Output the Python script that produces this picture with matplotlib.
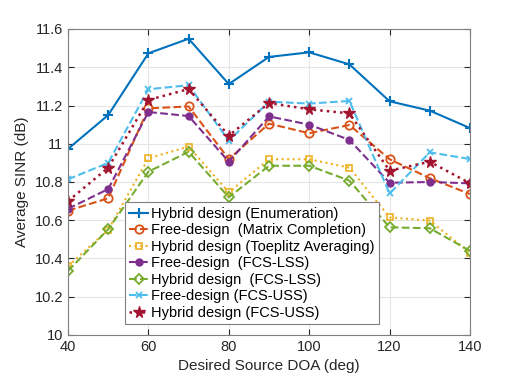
import matplotlib
matplotlib.use("Agg")
import matplotlib.pyplot as plt

plt.rcParams['font.family'] = ['Liberation Sans', 'DejaVu Sans']

# Desired source DOA (deg)
doa = [40, 50, 60, 70, 80, 90, 100, 110, 120, 130, 140]

# Average SINR (dB) for each method
hybrid_enum = [10.973, 11.150, 11.473, 11.549, 11.312, 11.454, 11.478, 11.415, 11.222, 11.173, 11.082]
free_mc = [10.650, 10.715, 11.185, 11.195, 10.920, 11.105, 11.055, 11.098, 10.919, 10.820, 10.737]
hybrid_toep = [10.360, 10.550, 10.924, 10.985, 10.746, 10.919, 10.919, 10.875, 10.615, 10.598, 10.430]
free_lss = [10.660, 10.763, 11.166, 11.145, 10.906, 11.143, 11.100, 11.020, 10.796, 10.800, 10.793]
hybrid_lss = [10.335, 10.553, 10.854, 10.958, 10.720, 10.885, 10.885, 10.807, 10.563, 10.558, 10.440]
free_uss = [10.814, 10.900, 11.285, 11.306, 11.016, 11.220, 11.210, 11.224, 10.740, 10.955, 10.920]
hybrid_uss = [10.700, 10.875, 11.229, 11.286, 11.042, 11.213, 11.180, 11.159, 10.859, 10.906, 10.793]

fig = plt.figure(figsize=(5.2, 3.76), dpi=100)
ax = fig.add_axes([68 / 520, 1 - 335 / 376, 402 / 520, 306 / 376])

ax.plot(doa, hybrid_enum, '-', color='#0072BD', marker='+', ms=7, mew=1.5, lw=1.5,
        label='Hybrid design (Enumeration)')
ax.plot(doa, free_mc, '--', color='#D95319', marker='o', ms=6, mfc='none', mew=1.3, lw=1.5,
        label='Free-design  (Matrix Completion)')
ax.plot(doa, hybrid_toep, ':', color='#EDB120', marker='s', ms=5, mfc='none', mew=1.2, lw=1.5,
        label='Hybrid design (Toeplitz Averaging)')
ax.plot(doa, free_lss, '--', color='#7E2F8E', marker='o', ms=5, lw=1.5,
        label='Free-design  (FCS-LSS)')
ax.plot(doa, hybrid_lss, '--', color='#77AC30', marker='D', ms=5, mfc='none', mew=1.3, lw=1.5,
        label='Hybrid design  (FCS-LSS)')
ax.plot(doa, free_uss, '--', color='#4DBEEE', marker='x', ms=5, mew=1.3, lw=1.5,
        label='Free-design (FCS-USS)')
ax.plot(doa, hybrid_uss, ':', color='#A2142F', marker='*', ms=8.5, lw=1.8,
        label='Hybrid design (FCS-USS)')

ax.set_xlim(40, 140)
ax.set_ylim(10, 11.6)
ax.set_xticks(range(40, 141, 20))
ax.set_yticks([10, 10.2, 10.4, 10.6, 10.8, 11, 11.2, 11.4, 11.6])
ax.set_yticklabels(['10', '10.2', '10.4', '10.6', '10.8', '11', '11.2', '11.4', '11.6'])
ax.grid(True, color='#e6e6e6', lw=0.8)
ax.set_axisbelow(True)
ax.tick_params(direction='in', labelsize=10.5, colors='#262626', length=4, top=True, right=True,
               labeltop=False, labelright=False)
for s in ax.spines.values():
    s.set_color('#808080')
    s.set_linewidth(0.8)

ax.set_xlabel('Desired Source DOA (deg)', fontsize=11, color='#262626')
ax.set_ylabel('Average SINR (dB)', fontsize=11, color='#262626')

leg = ax.legend(loc='lower left', bbox_to_anchor=(57 / 402, 11 / 306), fontsize=10.5,
                handlelength=1.3, handletextpad=0.2, borderpad=0.3, labelspacing=0.17,
                borderaxespad=0, fancybox=False, framealpha=1, edgecolor='#7f7f7f')
leg.get_frame().set_linewidth(0.8)

fig.savefig('out.png', dpi=100)
